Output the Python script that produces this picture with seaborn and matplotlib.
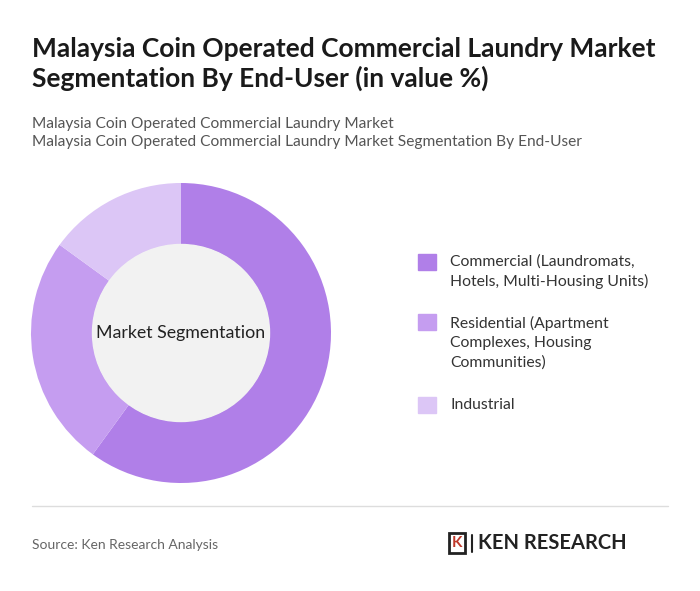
import matplotlib
matplotlib.use("Agg")
import matplotlib.pyplot as plt
import seaborn as sns
from matplotlib.patches import Circle, Rectangle

sns.set_theme(style="white")
plt.rcParams['font.family'] = ['Lato', 'DejaVu Sans']

categories = ["Commercial (Laundromats,\nHotels, Multi-Housing Units)",
              "Residential (Apartment\nComplexes, Housing\nCommunities)",
              "Industrial"]
values = [60, 25, 15]
colors = ["#b07fe8", "#c59df0", "#dcc6f6"]

fig = plt.figure(figsize=(7, 5.91), dpi=100)
fig.patch.set_facecolor("white")
W, H = 700, 591
def fx(x): return x / W
def fy(y): return 1 - y / H

fig.text(fx(32), fy(64), "Malaysia Coin Operated Commercial Laundry Market\nSegmentation By End-User (in value %)",
         fontsize=19, fontweight="bold", color="#1a1a1a", va="center", linespacing=1.25)
fig.text(fx(32), fy(133), "Malaysia Coin Operated Commercial Laundry Market\nMalaysia Coin Operated Commercial Laundry Market Segmentation By End-User",
         fontsize=11.2, color="#555555", va="center", linespacing=1.4)

ax = fig.add_axes([fx(31), fy(483), 300 / W, 300 / H])
ax.pie(values, colors=colors, startangle=90, counterclock=False,
       wedgeprops=dict(width=0.41, edgecolor="none"), radius=1)
ax.add_patch(Circle((0, 0), 0.59, color="#f2f2f2", zorder=3))
ax.text(0, 0, "Market Segmentation", ha="center", va="center", fontsize=12.8, color="#222222", zorder=4)
ax.set_xlim(-1, 1); ax.set_ylim(-1, 1); ax.set_aspect("equal"); ax.axis("off")

ys = [262, 322, 405]
tys = [272, 343, 405]
for c, lab, y, ty in zip(colors, categories, ys, tys):
    fig.patches.append(Rectangle((fx(418), fy(y + 8)), 18 / W, 16 / H, color=c, transform=fig.transFigure))
    fig.text(fx(450), fy(ty), lab, fontsize=11.3, color="#333333", va="center", linespacing=1.45)

fig.add_artist(plt.Line2D([fx(32), fx(668)], [fy(506), fy(506)], color="#dddddd", lw=1))
fig.text(fx(32), fy(545), "Source: Ken Research Analysis", fontsize=10, color="#666666", va="center")
fig.patches.append(Rectangle((fx(449), fy(553)), 16 / W, 20 / H, fill=False, ec="#222222", lw=2, transform=fig.transFigure))
fig.text(fx(451.5), fy(543), "K", fontsize=11, fontweight="bold", color="#c0392b", va="center")
fig.add_artist(plt.Line2D([fx(472), fx(472)], [fy(535), fy(552)], color="#222222", lw=1.5))
fig.text(fx(478), fy(543), "KEN RESEARCH", fontsize=14.5, fontweight="bold", color="#222222", va="center")

fig.savefig("out.png", dpi=100)
